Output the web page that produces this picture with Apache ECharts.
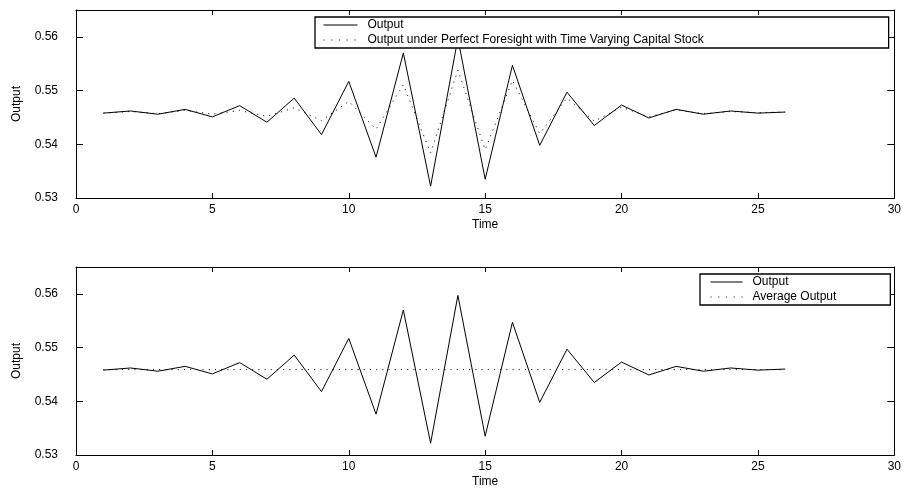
<!DOCTYPE html>
<html>
<head>
<meta charset="utf-8">
<script src="https://cdn.jsdelivr.net/npm/echarts@6/dist/echarts.min.js"></script>
<style>
html,body{margin:0;padding:0;background:#fff;}
#chart{width:904px;height:491px;}
</style>
</head>
<body>
<div id="chart"></div>
<script>
const time = [1,2,3,4,5,6,7,8,9,10,11,12,13,14,15,16,17,18,19,20,21,22,23,24,25,26];
const output = [0.5458,0.5462,0.5456,0.5465,0.5451,0.5472,0.5441,0.5486,0.5418,0.5517,0.5376,0.5570,0.5322,0.5597,0.5335,0.5547,0.5398,0.5497,0.5435,0.5473,0.5449,0.5465,0.5456,0.5462,0.5458,0.5460];
const perfectForesight = [0.5458,0.5461,0.5457,0.5463,0.5456,0.5463,0.5452,0.5468,0.5444,0.5480,0.5428,0.5511,0.5384,0.5538,0.5390,0.5519,0.5420,0.5486,0.5443,0.5469,0.5451,0.5464,0.5457,0.5461,0.5459,0.5460];
const averageOutput = [0.5459,0.5459,0.5459,0.5459,0.5459,0.5459,0.5459,0.5459,0.5459,0.5459,0.5459,0.5459,0.5459,0.5459,0.5459,0.5459,0.5459,0.5459,0.5459,0.5459,0.5459,0.5459,0.5459,0.5459,0.5459,0.5459];
const xTicks = {min:0, max:30, interval:5};
const yTicks = {min:0.53, max:0.565, interval:0.01};
const names = {
  out: 'Output',
  pf: 'Output under Perfect Foresight with Time Varying Capital Stock',
  avg: 'Average Output',
  xName: 'Time',
  yName: 'Output'
};

const FONT = "'Liberation Sans', Arial, Helvetica, sans-serif";
const pairs = arr => time.map((t,i)=>[t, arr[i]]);

function xAxes(gi){
  return [
    {type:'value', gridIndex:gi, position:'bottom', min:xTicks.min, max:xTicks.max, interval:xTicks.interval,
     name:names.xName, nameLocation:'middle', nameGap:21,
     nameTextStyle:{color:'#000', fontSize:12, fontFamily:FONT},
     axisLine:{show:true, onZero:false, lineStyle:{color:'#000', width:1}},
     axisTick:{show:true, inside:true, length:5, lineStyle:{color:'#000'}},
     axisLabel:{color:'#000', fontSize:12, fontFamily:FONT, margin:6},
     splitLine:{show:false}},
    {type:'value', gridIndex:gi, position:'top', min:xTicks.min, max:xTicks.max, interval:xTicks.interval,
     axisLine:{show:true, onZero:false, lineStyle:{color:'#000', width:1}},
     axisTick:{show:true, inside:true, length:5, lineStyle:{color:'#000'}},
     axisLabel:{show:false}, splitLine:{show:false}}
  ];
}
function yAxes(gi){
  return [
    {type:'value', gridIndex:gi, position:'left', min:yTicks.min, max:yTicks.max, interval:yTicks.interval,
     name:names.yName, nameLocation:'middle', nameGap:53, nameRotate:90,
     nameTextStyle:{color:'#000', fontSize:12, fontFamily:FONT},
     axisLine:{show:true, onZero:false, lineStyle:{color:'#000', width:1}},
     axisTick:{show:true, inside:true, length:7, lineStyle:{color:'#000'}},
     axisLabel:{color:'#000', fontSize:12, fontFamily:FONT, margin:18, showMaxLabel:false,
       formatter:v=>v.toFixed(2)},
     splitLine:{show:false}},
    {type:'value', gridIndex:gi, position:'right', min:yTicks.min, max:yTicks.max, interval:yTicks.interval,
     axisLine:{show:true, onZero:false, lineStyle:{color:'#000', width:1}},
     axisTick:{show:true, inside:true, length:7, lineStyle:{color:'#000'}},
     axisLabel:{show:false}, splitLine:{show:false}}
  ];
}

const solid = {color:'#000', width:1, type:'solid'};
const dotted = {color:'#222', width:1, type:[1.2,5]};

const legendBase = {
  orient:'vertical', itemHeight:12, itemGap:3,
  borderColor:'#000', borderWidth:1.3, backgroundColor:'#fff',
  selectedMode:false, z:10,
  itemStyle:{opacity:0},
  lineStyle:{width:1},
  textStyle:{color:'#000', fontSize:12, fontFamily:FONT, padding:[0,0,0,5]}
};
const legSolid = {lineStyle:{width:1, type:'solid', color:'#000'}};
const legDotted = {lineStyle:{width:1, type:[1.2,6.5], color:'#333'}};

const option = {
  animation:false,
  backgroundColor:'#fff',
  textStyle:{fontFamily:FONT},
  grid:[
    {left:76, right:6, top:10, height:188},
    {left:76, right:6, top:267, height:188}
  ],
  xAxis:[...xAxes(0), ...xAxes(1)],
  yAxis:[...yAxes(0), ...yAxes(1)],
  legend:[
    Object.assign({}, legendBase, {left:315, top:17, itemWidth:34,
     padding:[2,185,2,8],
     data:[Object.assign({name:names.out}, legSolid), Object.assign({name:names.pf}, legDotted)]}),
    Object.assign({}, legendBase, {left:700, top:274, itemWidth:32,
     padding:[2,54,2,10],
     data:[Object.assign({name:names.out}, legSolid), Object.assign({name:names.avg}, legDotted)]})
  ],
  series:[
    {name:names.out, type:'line', xAxisIndex:0, yAxisIndex:0, data:pairs(output),
     symbol:'none', lineStyle:solid, itemStyle:{color:'#000'}, z:3},
    {name:names.pf, type:'line', xAxisIndex:0, yAxisIndex:0, data:pairs(perfectForesight),
     symbol:'none', lineStyle:dotted, itemStyle:{color:'#222'}, z:2},
    {name:names.out, type:'line', xAxisIndex:2, yAxisIndex:2, data:pairs(output),
     symbol:'none', lineStyle:solid, itemStyle:{color:'#000'}, z:3},
    {name:names.avg, type:'line', xAxisIndex:2, yAxisIndex:2, data:pairs(averageOutput),
     symbol:'none', lineStyle:dotted, itemStyle:{color:'#222'}, z:2}
  ]
};

const chart = echarts.init(document.getElementById('chart'), null, {renderer:'canvas'});
chart.setOption(option);
</script>
</body>
</html>
